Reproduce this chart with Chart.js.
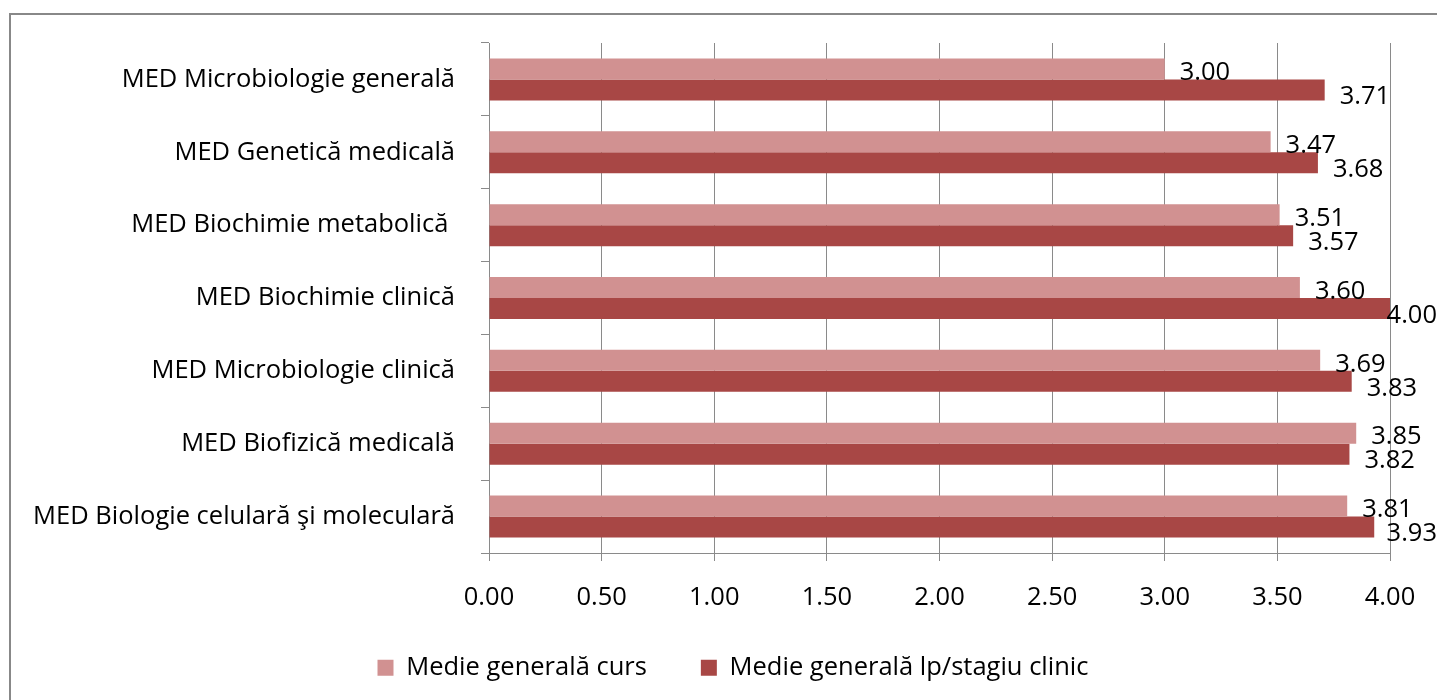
<!DOCTYPE html>
<html><head><meta charset="utf-8">
<script src="https://cdn.jsdelivr.net/npm/chart.js@4/dist/chart.umd.min.js"></script>
<style>html,body{margin:0;padding:0;background:#fff;overflow:hidden}#wrap{position:relative;width:1437px;height:700px}</style>
</head><body><div id="wrap"><canvas id="c" width="1437" height="700"></canvas></div>
<script>
const categories = [
  'MED Microbiologie generală',
  'MED Genetică medicală',
  'MED Biochimie metabolică ',
  'MED Biochimie clinică',
  'MED Microbiologie clinică',
  'MED Biofizică medicală',
  'MED Biologie celulară şi moleculară'
];
const seriesNames = ['Medie generală curs', 'Medie generală lp/stagiu clinic'];
const mediaCurs = [3.00, 3.47, 3.51, 3.60, 3.69, 3.85, 3.81];
const mediaLp = [3.71, 3.68, 3.57, 4.00, 3.83, 3.82, 3.93];
const xMin = 0, xMax = 4, xStep = 0.5;
const colors = ['#D19191', '#A84745'];

const FONT = "'Open Sans', 'Noto Sans', sans-serif";
const FS = 25.5;
const GRID = '#8a8a8a';

const framePlugin = {
  id: 'frame',
  beforeDraw(chart) {
    const ctx = chart.ctx;
    ctx.save();
    ctx.fillStyle = '#fff';
    ctx.fillRect(0, 0, chart.width, chart.height);
    ctx.strokeStyle = '#888';
    ctx.lineWidth = 2;
    ctx.beginPath();
    ctx.moveTo(10, 720);
    ctx.lineTo(10, 14);
    ctx.lineTo(1460, 14);
    ctx.stroke();
    ctx.restore();
  }
};

const valueLabels = {
  id: 'valueLabels',
  afterDatasetsDraw(chart) {
    const ctx = chart.ctx;
    ctx.save();
    ctx.font = FS + 'px ' + FONT;
    ctx.fillStyle = '#000';
    ctx.textBaseline = 'middle';
    ctx.textAlign = 'left';
    chart.data.datasets.forEach((ds, di) => {
      const meta = chart.getDatasetMeta(di);
      meta.data.forEach((bar, i) => {
        const txt = ds.data[i].toFixed(2);
        const w = ctx.measureText(txt).width;
        let x = bar.x + 15;
        if (x + w > chart.width) x = chart.width - w;
        const y = bar.y + (di === 0 ? 4 : 7);
        ctx.fillText(txt, x, y);
      });
    });
    ctx.restore();
  }
};

const legendFit = {
  id: 'legendFit',
  beforeUpdate(chart) {
    const lg = chart.legend;
    if (lg && !lg._patched) {
      const f = lg.fit;
      lg.fit = function () { f.call(this); this.height = 89; };
      lg._patched = true;
    }
  },
  afterLayout(chart) {
    const lg = chart.legend;
    if (lg) {
      lg.top -= 10; lg.bottom -= 10;
      lg.left += 24; lg.right += 24;
    }
  }
};

new Chart(document.getElementById('c'), {
  type: 'bar',
  data: {
    labels: categories,
    datasets: [
      { label: seriesNames[0], data: mediaCurs, backgroundColor: colors[0], borderWidth: 0,
        categoryPercentage: 0.576, barPercentage: 1.0 },
      { label: seriesNames[1], data: mediaLp, backgroundColor: colors[1], borderWidth: 0,
        categoryPercentage: 0.576, barPercentage: 1.0 }
    ]
  },
  options: {
    indexAxis: 'y',
    responsive: false,
    animation: false,
    devicePixelRatio: 1,
    layout: { padding: { left: 28, top: 43, right: 47, bottom: 0 } },
    scales: {
      x: {
        type: 'linear', position: 'bottom', min: xMin, max: xMax,
        ticks: { stepSize: xStep, callback: v => Number(v).toFixed(2), font: { family: FONT, size: FS }, color: '#000', padding: 21, maxRotation: 0 },
        grid: { color: GRID, lineWidth: 1, tickLength: 8, drawTicks: true },
        border: { display: true, color: GRID, width: 1 },
        afterFit(s) { s.height = 58; }
      },
      y: {
        type: 'category',
        ticks: { font: { family: FONT, size: FS }, color: '#000', padding: 26 },
        grid: { offset: true, drawOnChartArea: false, drawTicks: true, tickLength: 8, color: GRID, lineWidth: 1 },
        border: { display: true, color: GRID, width: 1 },
        afterFit(s) { s.width = 461; }
      }
    },
    plugins: {
      legend: {
        position: 'bottom', align: 'center',
        labels: { boxWidth: 16, boxHeight: 16, padding: 54, color: '#000', font: { family: FONT, size: FS } }
      },
      tooltip: { enabled: false },
      title: { display: false }
    }
  },
  plugins: [framePlugin, valueLabels, legendFit]
});
</script>
</body></html>
